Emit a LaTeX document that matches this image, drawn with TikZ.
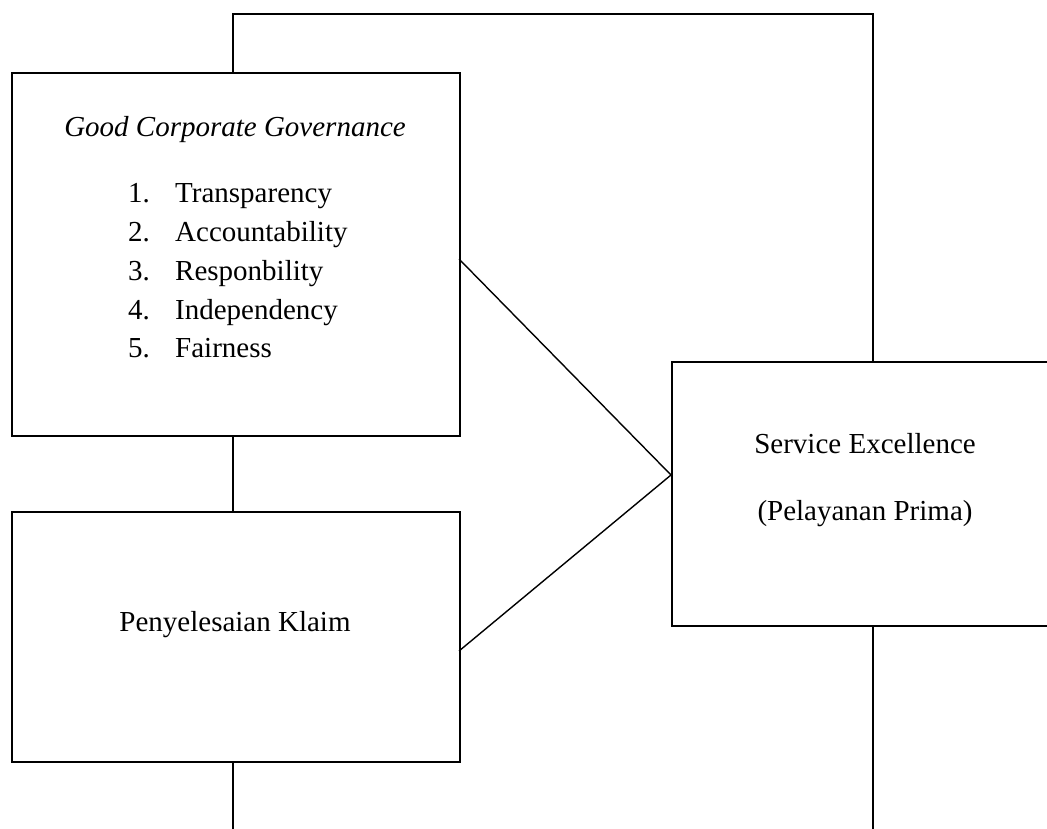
\documentclass[tikz,border=0pt]{standalone}
\usepackage{fontspec}
\setmainfont{Liberation Serif}
\begin{document}
\begin{tikzpicture}[x=1pt,y=-1pt,
  box/.style={draw=black,line width=1.8pt,rectangle,inner sep=0pt,anchor=north west},
  conn/.style={draw=black,line width=1.4pt},
  txt/.style={font=\fontsize{29}{35}\selectfont,inner sep=0pt}]
\useasboundingbox (0,0) rectangle (1047,829);
\clip (0,0) rectangle (1047,829);
\node[box,minimum width=448pt,minimum height=363pt] (gcg) at (11,72) {};
\node[box,minimum width=448pt,minimum height=250pt] (pk) at (11,511) {};
\node[box,minimum width=420pt,minimum height=264pt] (se) at (671,361) {};
% texts
\node[txt,anchor=base] (t0) at (235,137) {\itshape Good Corporate Governance};
\node[txt,anchor=base west] (n1) at (128,203) {1.};
\node[txt,anchor=base west] (i1) at (175,203) {Transparency};
\node[txt,anchor=base west] (n2) at (128,242) {2.};
\node[txt,anchor=base west] (i2) at (175,242) {Accountability};
\node[txt,anchor=base west] (n3) at (128,280) {3.};
\node[txt,anchor=base west] (i3) at (175,280) {Responbility};
\node[txt,anchor=base west] (n4) at (128,319) {4.};
\node[txt,anchor=base west] (i4) at (175,319) {Independency};
\node[txt,anchor=base west] (n5) at (128,357) {5.};
\node[txt,anchor=base west] (i5) at (175,357) {Fairness};
\node[txt,anchor=base] (pkt) at (235,631) {Penyelesaian Klaim};
\node[txt,anchor=base] (se1) at (865,453) {Service Excellence};
\node[txt,anchor=base] (se2) at (865,520) {(Pelayanan Prima)};
% connector coordinates
\coordinate (tl) at (233,14);
\coordinate (tr) at (873,14);
\coordinate (gcgR) at (459,259);
\coordinate (pkR) at (459,651);
\coordinate (seL) at (671,475);
\coordinate (bl) at (233,829);
\coordinate (br) at (873,829);
\draw[conn] (gcg.north -| tl) -- (tl) -- (tr) -- (se.north -| tr);
\draw[conn] (gcg.south -| tl) -- (pk.north -| tl);
\draw[conn] (pk.south -| tl) -- (bl);
\draw[conn] (se.south -| br) -- (br);
\draw[conn] (gcgR) -- (seL) -- (pkR);
\end{tikzpicture}
\end{document}
